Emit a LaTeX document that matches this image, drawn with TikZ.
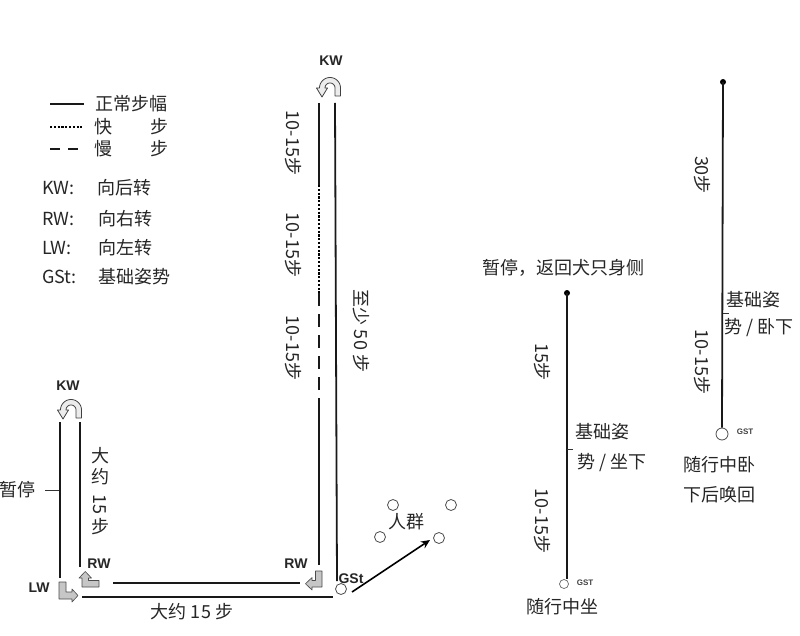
\documentclass[tikz,border=0pt]{standalone}
\usepackage{fontspec}
\setmainfont{Noto Sans CJK SC}
\newfontfamily\labfont{Liberation Sans}
\usetikzlibrary{arrows.meta}
\tikzset{
  txt/.style={font=\fontsize{18}{20}\selectfont, text=black!85, inner sep=0pt},
  vtxt/.style={txt, rotate=-90},
  lab/.style={font=\labfont\bfseries\fontsize{14}{16}\selectfont, text=black!85, inner sep=0pt},
  tiny/.style={font=\labfont\bfseries\fontsize{8}{9}\selectfont, text=black!75, inner sep=0pt},
  trk/.style={line width=1.8pt, black!90},
  dotline/.style={line width=2.2pt, black, dash pattern=on 2.2pt off 1.6pt},
  dashline/.style={trk, dash pattern=on 13pt off 8pt},
  lgdash/.style={trk, dash pattern=on 10pt off 8pt},
  icon/.style={draw=black!70, fill=gray!45, line width=0.6pt, line join=round},
  uturn/.style={draw=black!75, fill=gray!15, line width=0.8pt, line join=round},
  hole/.style={circle, draw=black!70, line width=0.8pt, fill=white, minimum size=11pt, inner sep=0pt},
  dot/.style={circle, fill=black, minimum size=6pt, inner sep=0pt},
  tick/.style={line width=0.8pt, black!80},
}
\newcommand\UTurn[2]{%
  \begin{scope}[shift={(#1,#2)}]
    \draw[uturn] (10.5,8) -- plot[domain=0:180,samples=25] ({10.5*cos(\x)},{-10.5*sin(\x)})
      -- (-13.5,0) -- (-8,9) -- (-2.5,0)
      -- plot[domain=180:0,samples=25] ({5*cos(\x)},{-5*sin(\x)}) -- (5,8) -- cycle;
  \end{scope}}
\newcommand\LWicon[2]{%
  \begin{scope}[shift={(#1,#2)}]
    \draw[icon] (0,-17) -- (0,0) -- (13,0) -- (13,3) -- (19,-3.5) -- (13,-10) -- (13,-7) -- (7,-7) -- (7,-17) -- cycle;
  \end{scope}}
\newcommand\RWup[2]{%
  \begin{scope}[shift={(#1,#2)}]
    \draw[icon] (0,0) -- (17,0) -- (17,-6.5) -- (6.5,-6.5) -- (6.5,-9) -- (9.5,-9) -- (3.25,-15.5) -- (-3,-9) -- (0,-9) -- cycle;
  \end{scope}}
\newcommand\RWleft[2]{%
  \begin{scope}[shift={(#1,#2)}]
    \draw[icon] (0,0) -- (0,-16) -- (-6.5,-16) -- (-6.5,-6.5) -- (-10,-6.5) -- (-10,-9.5) -- (-16.5,-3.25) -- (-10,3) -- (-10,0) -- cycle;
  \end{scope}}
\begin{document}
\begin{tikzpicture}[x=1pt,y=-1pt]
\fill[white] (0,0) rectangle (800,636);
\useasboundingbox (0,0) rectangle (800,636);

% ---------- legend ----------
\coordinate (lg1a) at (50,104); \coordinate (lg1b) at (84,104);
\coordinate (lg2a) at (50,127); \coordinate (lg2b) at (82,127);
\coordinate (lg3a) at (50,149); \coordinate (lg3b) at (80,149);
\draw[trk] (lg1a) -- (lg1b);
\draw[dotline] (lg2a) -- (lg2b);
\draw[lgdash] (lg3a) -- (lg3b);
\node[txt, anchor=west] (lgt1) at (95,104) {正常步幅};
\node[txt] (lgt2a) at (103,127) {快};
\node[txt] (lgt2b) at (159,127) {步};
\node[txt] (lgt3a) at (103,149) {慢};
\node[txt] (lgt3b) at (159,149) {步};
\node[txt, anchor=west] (lk1) at (42,188) {KW:};
\node[txt, anchor=west] (lk2) at (97,188) {向后转};
\node[txt, anchor=west] (lr1) at (42,219) {RW:};
\node[txt, anchor=west] (lr2) at (98,219) {向右转};
\node[txt, anchor=west] (ll1) at (42,248) {LW:};
\node[txt, anchor=west] (ll2) at (98,248) {向左转};
\node[txt, anchor=west] (lg1) at (42,277) {GSt:};
\node[txt, anchor=west] (lg2) at (98,277) {基础姿势};

% ---------- left column ----------
\coordinate (aL1) at (60,422); \coordinate (aL2) at (60,578);
\coordinate (aR1) at (80,422); \coordinate (aR2) at (80,567);
\draw[trk] (aL1) -- (aL2);
\draw[trk] (aR1) -- (aR2);
\node[lab] (kwA) at (68,386) {KW};
\UTurn{71}{410}
\node[txt] (pause1) at (17,490) {暂停};
\coordinate (pt1) at (45,490); \coordinate (pt2) at (59,490);
\draw[tick] (pt1) -- (pt2);
\node[txt] (v1) at (100,456) {大};
\node[txt] (v2) at (100,477) {约};
\node[txt, rotate=-90] (v3) at (100,504) {15};
\node[txt] (v4) at (100,527) {步};
\node[lab] (rwA) at (99,564) {RW};
\RWup{82}{587}
\node[lab] (lwA) at (39,588) {LW};
\LWicon{59}{599}

% ---------- bottom lines ----------
\coordinate (b1a) at (113,583); \coordinate (b1b) at (300,583);
\coordinate (b2a) at (82,597); \coordinate (b2b) at (333,597);
\draw[trk] (b1a) -- (b1b);
\draw[trk] (b2a) -- (b2b);
\node[txt] (bl) at (192,612) {大约 15 步};

% ---------- main column ----------
\coordinate (mL0) at (319,103);
\coordinate (mL1) at (319,185);
\coordinate (mL2) at (319,293);
\coordinate (mL3) at (319,408);
\coordinate (mL4) at (319,565);
\coordinate (mR0) at (335,103);
\coordinate (mR1) at (337,581);
\draw[trk] (mL0) -- (mL1);
\draw[dotline] (mL1) -- (mL2);
\draw[dashline] (mL2) -- (mL3);
\draw[trk] (mL3) -- (mL4);
\draw[trk] (mR0) -- (mR1);
\node[lab] (kwB) at (331,61) {KW};
\UTurn{330}{88}
\node[vtxt] (s1) at (293,143) {10-15步};
\node[vtxt] (s2) at (293,245) {10-15步};
\node[vtxt] (s3) at (293,348) {10-15步};
\node[vtxt] (s4) at (361,331) {至少 50 步};
\node[lab] (rwB) at (296,564) {RW};
\RWleft{322}{587}
\node[hole] (gst) at (341,589) {};
\node[lab] (gstl) at (351,579) {GSt};

% ---------- crowd ----------
\node[hole] (c1) at (393,505) {};
\node[hole] (c2) at (451,505) {};
\node[hole] (c3) at (380,537) {};
\node[hole] (c4) at (439,538) {};
\node[txt] (crowd) at (406,522) {人群};
\coordinate (ar1) at (352,592);
\coordinate (ar2) at (430,540);
\draw[line width=1.6pt, -{Stealth[length=9pt,width=8pt]}] (ar1) -- (ar2);

% ---------- sit column ----------
\node[txt] (sitTop) at (563,268) {暂停，返回犬只身侧};
\node[dot] (sd) at (567,293) {};
\coordinate (sb) at (567,579);
\draw[trk] (sd.center) -- (sb);
\node[circle, draw=black!60, line width=0.7pt, minimum size=9pt, inner sep=0pt] (sc) at (564,584) {};
\node[tiny] (sgst) at (585,583) {GST};
\coordinate (st1) at (567,449); \coordinate (st2) at (573,449);
\draw[tick] (st1) -- (st2);
\node[vtxt] (s15) at (542,362) {15步};
\node[vtxt] (s1015) at (542,521) {10-15步};
\node[txt] (sp1) at (602,432) {基础姿};
\node[txt] (sp2) at (612,463) {势 / 坐下};
\node[txt] (sbot) at (562,607) {随行中坐};

% ---------- down column ----------
\node[dot] (dd) at (723,82) {};
\node[hole, minimum size=12pt] (dc) at (722,434) {};
\draw[trk] (dd.center) -- (dc.north);
\node[tiny] (dgst) at (745,432) {GST};
\coordinate (dt1) at (723,313); \coordinate (dt2) at (729,313);
\draw[tick] (dt1) -- (dt2);
\node[vtxt] (d30) at (702,175) {30步};
\node[vtxt] (d1015) at (702,362) {10-15步};
\node[txt] (dp1) at (753,300) {基础姿};
\node[txt] (dp2) at (759,328) {势 / 卧下};
\node[txt] (db1) at (719,465) {随行中卧};
\node[txt] (db2) at (719,495) {下后唤回};
\end{tikzpicture}
\end{document}
